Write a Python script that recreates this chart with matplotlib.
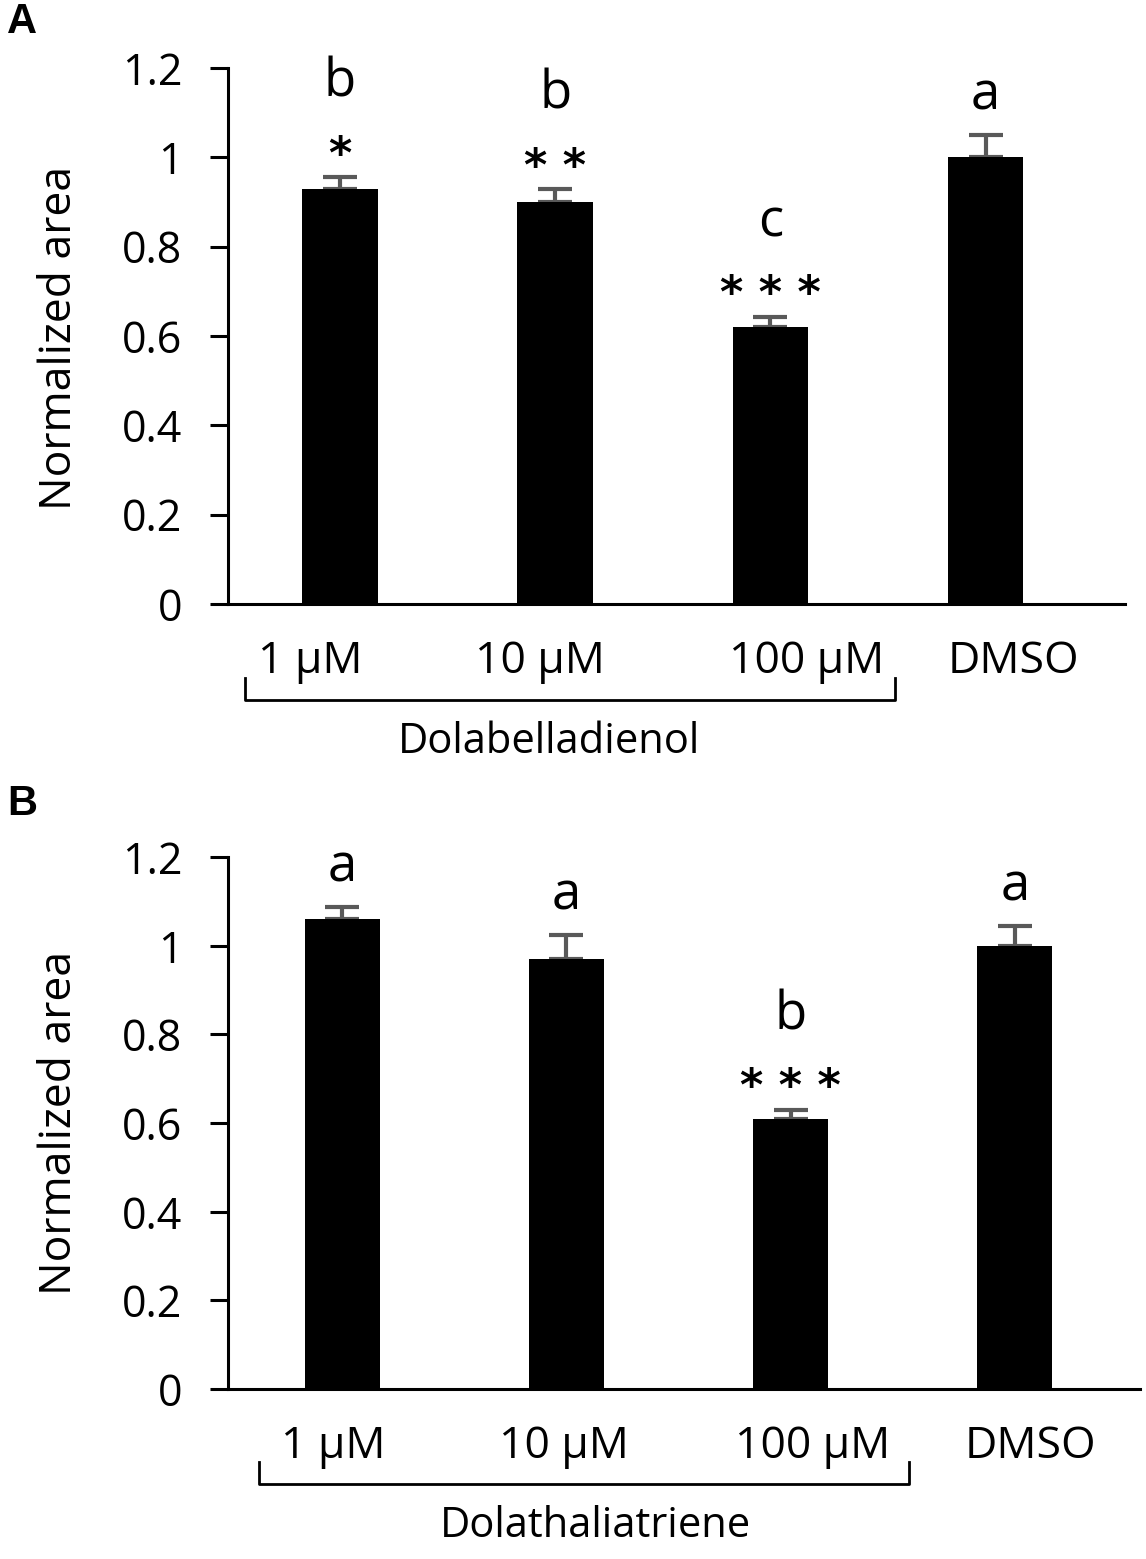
import matplotlib
matplotlib.use('Agg')
import matplotlib.pyplot as plt

plt.rcParams['font.family'] = ['Open Sans', 'DejaVu Sans']

# data
categories = ['1 µM', '10 µM', '100 µM', 'DMSO']

means_a = [0.93, 0.90, 0.62, 1.00]
errs_a = [0.025, 0.028, 0.022, 0.05]
letters_a = ['b', 'b', 'c', 'a']
stars_a = ['*', '**', '***', '']
group_a = 'Dolabelladienol'

means_b = [1.06, 0.97, 0.61, 1.00]
errs_b = [0.028, 0.055, 0.02, 0.045]
letters_b = ['a', 'a', 'b', 'a']
stars_b = ['', '', '***', '']
group_b = 'Dolathaliatriene'

yticks = [0, 0.2, 0.4, 0.6, 0.8, 1.0, 1.2]
ytick_labels = ['0', '0.2', '0.4', '0.6', '0.8', '1', '1.2']


def draw_panel(ax, means, errs, letters, stars, group, xlim, width, label_dx,
               bracket, group_x):
    x = list(range(len(means)))
    ax.bar(x, means, width=width, color='black', zorder=2)
    ax.errorbar(x, means, yerr=[[0] * len(errs), errs], fmt='none',
                ecolor='#595959', elinewidth=3, capsize=12, capthick=3, zorder=1)

    for i in x:
        top = means[i] + errs[i]
        if stars[i]:
            ax.text(i, top + 0.05, ' '.join(stars[i]), ha='center', va='center',
                    fontsize=32, fontweight='bold', family='DejaVu Sans')
            ax.text(i, top + 0.212, letters[i], ha='center', va='center', fontsize=38)
        else:
            ax.text(i, top + 0.088, letters[i], ha='center', va='center', fontsize=38)

    ax.set_xlim(*xlim)
    ax.set_ylim(0, 1.2)
    ax.set_yticks(yticks)
    ax.set_yticklabels(ytick_labels)
    ax.set_xticks([])
    ax.spines['top'].set_visible(False)
    ax.spines['right'].set_visible(False)
    ax.spines['left'].set_linewidth(2.2)
    ax.spines['bottom'].set_linewidth(2.2)
    ax.tick_params(axis='y', direction='out', length=13, width=2.2, pad=20, labelsize=31)
    ax.set_ylabel('Normalized area', fontsize=32)

    # category labels under the axis
    for i, c in enumerate(categories):
        ax.text(i + label_dx[i], -0.13, c, ha='center', va='center', fontsize=32,
                clip_on=False)

    # bracket under the three concentrations
    bx0, bx1 = bracket
    ax.plot([bx0, bx0, bx1, bx1], [-0.165, -0.215, -0.215, -0.165], color='black',
            lw=2, clip_on=False)
    ax.text(group_x, -0.31, group, ha='center', va='center', fontsize=30,
            clip_on=False)


fig = plt.figure(figsize=(11.46, 15.59), dpi=100)

ax_a = fig.add_axes([0.199, 0.6126, 0.783, 0.3438])
draw_panel(ax_a, means_a, errs_a, letters_a, stars_a, group_a,
           xlim=(-0.52, 3.65), width=0.35,
           label_dx=[-0.14, -0.07, 0.17, 0.13], bracket=(-0.44, 2.58), group_x=0.97)
ax_a.yaxis.set_label_coords(-0.163, 0.496)

ax_b = fig.add_axes([0.199, 0.109, 0.796, 0.3412])
draw_panel(ax_b, means_b, errs_b, letters_b, stars_b, group_b,
           xlim=(-0.51, 3.56), width=0.335,
           label_dx=[-0.04, -0.01, 0.1, 0.07], bracket=(-0.37, 2.53), group_x=1.13)
ax_b.yaxis.set_label_coords(-0.16, 0.5)

fig.text(0.006, 0.986, 'A', fontsize=30, fontweight='bold', family='Liberation Sans',
         va='center', ha='left')
fig.text(0.006, 0.484, 'B', fontsize=30, fontweight='bold', family='Liberation Sans',
         va='center', ha='left')

fig.savefig('out.png', dpi=100)
